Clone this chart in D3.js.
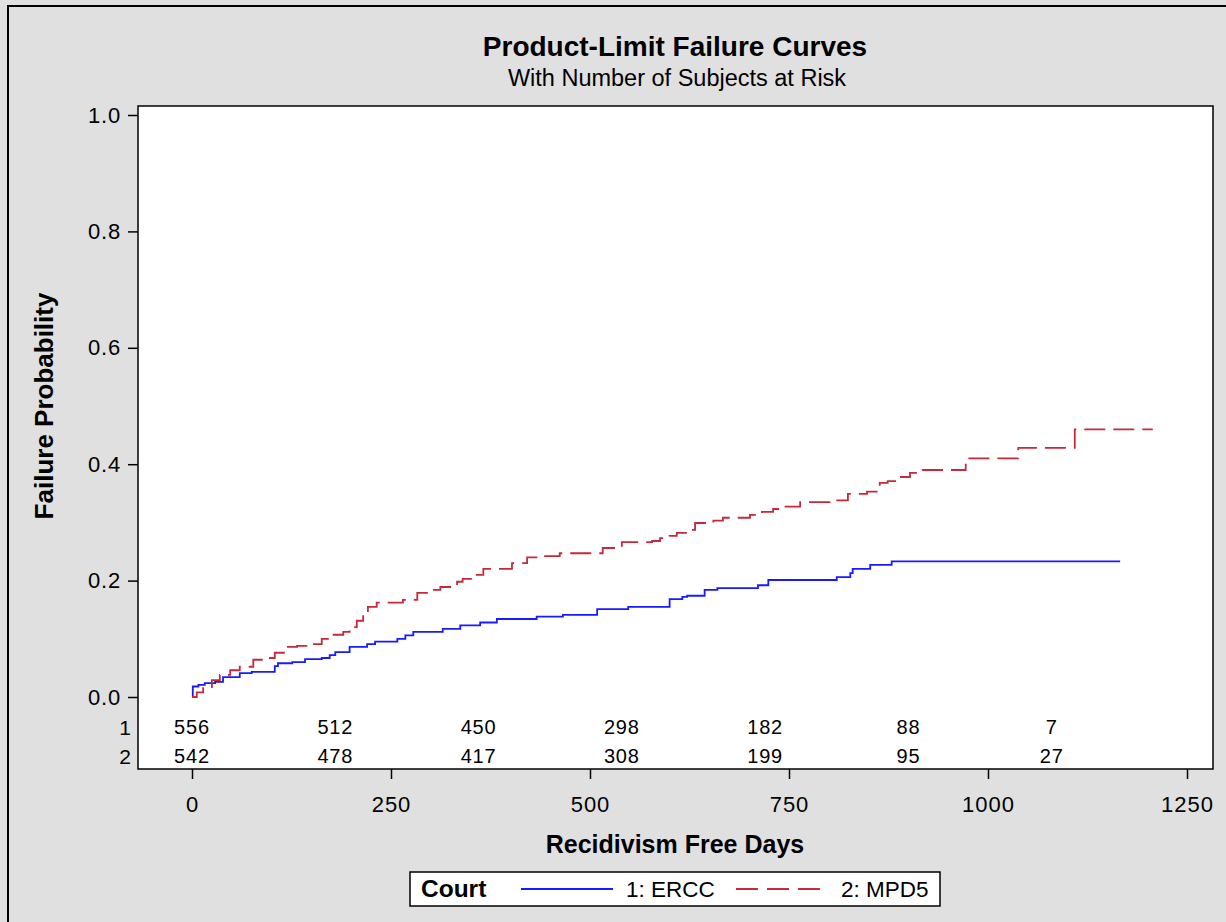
<!DOCTYPE html>
<html>
<head>
<meta charset="utf-8">
<script src="https://cdn.jsdelivr.net/npm/d3@7"></script>
<style>
  body { margin: 0; background: #e0e0e0; }
  svg { display: block; font-family: "Liberation Sans", Arial, sans-serif; }
</style>
</head>
<body>
<script>
// Step points (days, failure probability)
const erccDays = [0, 1, 8, 16, 29, 39, 60, 75, 104, 108, 126, 142, 163, 173, 180, 198, 220, 230, 258, 268, 278, 315, 337, 362, 383, 433, 466, 509, 548, 600, 616, 622, 644, 660, 711, 724, 810, 827, 830, 852, 879, 1166];
const erccProb = [0, 0.018, 0.021, 0.024, 0.026, 0.034, 0.041, 0.043, 0.053, 0.058, 0.06, 0.065, 0.067, 0.072, 0.077, 0.086, 0.091, 0.095, 0.1, 0.106, 0.112, 0.117, 0.123, 0.128, 0.134, 0.138, 0.141, 0.151, 0.155, 0.168, 0.172, 0.174, 0.184, 0.187, 0.192, 0.201, 0.206, 0.213, 0.22, 0.227, 0.233, 0.233];

const mpdDays = [0, 6, 14, 25, 35, 48, 60, 77, 94, 104, 119, 132, 144, 163, 173, 190, 198, 207, 215, 221, 232, 265, 283, 299, 312, 333, 340, 353, 366, 402, 421, 437, 462, 516, 540, 578, 588, 600, 609, 623, 632, 655, 667, 701, 716, 730, 742, 764, 801, 824, 848, 864, 874, 886, 902, 918, 972, 1038, 1109, 1207];
const mpdProb = [0, 0.008, 0.017, 0.029, 0.038, 0.046, 0.052, 0.064, 0.067, 0.076, 0.086, 0.088, 0.091, 0.1, 0.107, 0.112, 0.12, 0.131, 0.144, 0.155, 0.162, 0.167, 0.179, 0.184, 0.189, 0.198, 0.203, 0.21, 0.22, 0.23, 0.24, 0.242, 0.247, 0.256, 0.266, 0.268, 0.273, 0.277, 0.282, 0.287, 0.299, 0.303, 0.308, 0.313, 0.318, 0.323, 0.327, 0.335, 0.338, 0.349, 0.353, 0.368, 0.371, 0.378, 0.385, 0.39, 0.41, 0.428, 0.46, 0.46];

// Number at risk table
const riskTimes = [0, 180, 360, 540, 720, 900, 1080];
const riskErcc = [556, 512, 450, 298, 182, 88, 7];
const riskMpd = [542, 478, 417, 308, 199, 95, 27];

const xTicks = [0, 250, 500, 750, 1000, 1250];
const yTicks = [0, 0.2, 0.4, 0.6, 0.8, 1.0];

const W = 1226, H = 922;
const plot = { left: 138, top: 106, right: 1213, bottom: 769 };
const FONT = '"Liberation Sans", Arial, sans-serif';

const svg = d3.select('body').append('svg')
    .attr('width', W)
    .attr('height', H);

// background + outer frame
svg.append('rect')
    .attr('x', 0).attr('y', 0).attr('width', W).attr('height', H)
    .attr('fill', '#e0e0e0');
svg.append('rect')
    .attr('x', 8).attr('y', 6).attr('width', W + 20).attr('height', H + 20)
    .attr('fill', 'none').attr('stroke', '#000').attr('stroke-width', 2);

const x = d3.scaleLinear().domain([0, 1250]).range([192, 1187]);
const y = d3.scaleLinear().domain([0, 1]).range([697, 115]);

// plot area
svg.append('rect')
    .attr('x', plot.left).attr('y', plot.top)
    .attr('width', plot.right - plot.left).attr('height', plot.bottom - plot.top)
    .attr('fill', '#fff').attr('stroke', '#000').attr('stroke-width', 1.5);

// titles
svg.append('text')
    .attr('x', 675).attr('y', 56)
    .attr('text-anchor', 'middle')
    .attr('font-size', 28).attr('font-weight', 'bold')
    .text('Product-Limit Failure Curves');
svg.append('text')
    .attr('x', 677).attr('y', 86)
    .attr('text-anchor', 'middle')
    .attr('font-size', 23.5)
    .text('With Number of Subjects at Risk');

// y axis
const yAxis = svg.append('g')
    .attr('transform', `translate(${plot.left},0)`)
    .call(d3.axisLeft(y).tickValues(yTicks).tickFormat(d3.format('.1f')).tickSize(10).tickPadding(7));
yAxis.select('.domain').remove();
yAxis.selectAll('line').attr('stroke', '#000').attr('stroke-width', 1.5);
yAxis.selectAll('text').attr('font-size', 22).attr('fill', '#000').attr('font-family', FONT)
    .attr('letter-spacing', 0.8);

// x axis
const xAxis = svg.append('g')
    .attr('transform', `translate(0,${plot.bottom})`)
    .call(d3.axisBottom(x).tickValues(xTicks).tickFormat(d3.format('d')).tickSize(10).tickPadding(17));
xAxis.select('.domain').remove();
xAxis.selectAll('line').attr('stroke', '#000').attr('stroke-width', 1.5);
xAxis.selectAll('text').attr('font-size', 22).attr('fill', '#000').attr('font-family', FONT)
    .attr('letter-spacing', 1);

// axis labels
svg.append('text')
    .attr('transform', `translate(53,${y(0.5)}) rotate(-90)`)
    .attr('text-anchor', 'middle')
    .attr('font-size', 26).attr('font-weight', 'bold')
    .text('Failure Probability');
svg.append('text')
    .attr('x', 675).attr('y', 853)
    .attr('text-anchor', 'middle')
    .attr('font-size', 25).attr('font-weight', 'bold')
    .text('Recidivism Free Days');

// curves
const line = d3.line()
    .x(d => x(d[0]))
    .y(d => y(d[1]))
    .curve(d3.curveStepAfter);

svg.append('path')
    .datum(d3.zip(erccDays, erccProb))
    .attr('d', line)
    .attr('fill', 'none')
    .attr('stroke', '#1a1aff')
    .attr('stroke-width', 1.8);

svg.append('path')
    .datum(d3.zip(mpdDays, mpdProb))
    .attr('d', line)
    .attr('fill', 'none')
    .attr('stroke', '#c42a3c')
    .attr('stroke-width', 1.8)
    .attr('stroke-dasharray', '21,8');

// number at risk rows
const rows = [
    { label: '1', values: riskErcc, yPos: 734 },
    { label: '2', values: riskMpd, yPos: 763 }
];
rows.forEach(r => {
    svg.append('text')
        .attr('x', 131).attr('y', r.yPos + 1)
        .attr('text-anchor', 'end')
        .attr('font-size', 21)
        .text(r.label);
    svg.selectAll(null)
        .data(riskTimes)
        .enter()
        .append('text')
        .attr('x', d => x(d))
        .attr('y', r.yPos)
        .attr('text-anchor', 'middle')
        .attr('font-size', 20)
        .attr('letter-spacing', 0.8)
        .text((d, i) => r.values[i]);
});

// legend
const legend = svg.append('g').attr('id', 'legend');
legend.append('rect')
    .attr('x', 410).attr('y', 872).attr('width', 530).attr('height', 34)
    .attr('fill', '#fff').attr('stroke', '#000').attr('stroke-width', 1.5);
legend.append('text')
    .attr('x', 421).attr('y', 897)
    .attr('font-size', 24.5).attr('font-weight', 'bold')
    .text('Court');
legend.append('line')
    .attr('x1', 521).attr('x2', 613).attr('y1', 889).attr('y2', 889)
    .attr('stroke', '#1a1aff').attr('stroke-width', 1.8);
legend.append('text')
    .attr('x', 626).attr('y', 897)
    .attr('font-size', 22.5)
    .text('1: ERCC');
legend.append('line')
    .attr('x1', 736).attr('x2', 820).attr('y1', 889).attr('y2', 889)
    .attr('stroke', '#c42a3c').attr('stroke-width', 1.8)
    .attr('stroke-dasharray', '22,9');
legend.append('text')
    .attr('x', 841).attr('y', 897)
    .attr('font-size', 22.5)
    .text('2: MPD5');
</script>
</body>
</html>
